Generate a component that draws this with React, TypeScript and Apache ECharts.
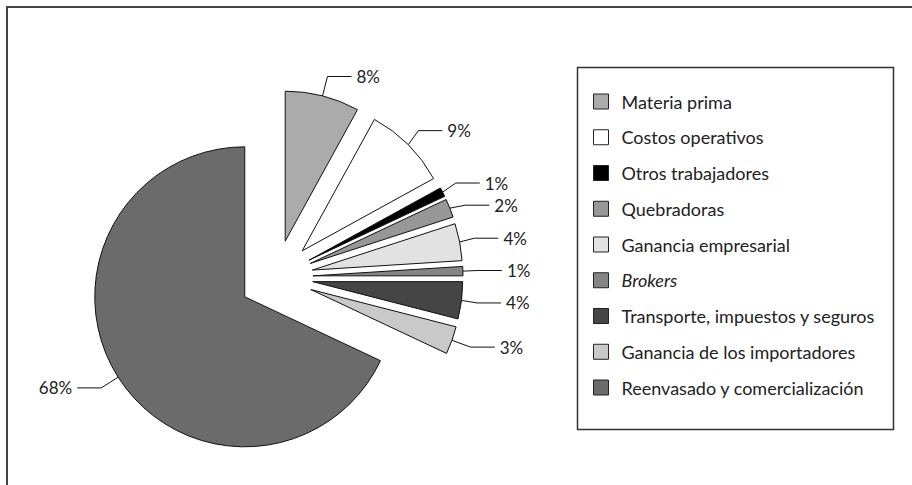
import React, { useEffect, useRef } from "react";
import * as echarts from "echarts";

const categories = [
  "Materia prima",
  "Costos operativos",
  "Otros trabajadores",
  "Quebradoras",
  "Ganancia empresarial",
  "Brokers",
  "Transporte, impuestos y seguros",
  "Ganancia de los importadores",
  "Reenvasado y comercialización",
];
const values = [8, 9, 1, 2, 4, 1, 4, 3, 68];
const colors = ["#ababab", "#ffffff", "#000000", "#979797", "#e2e2e2", "#858585", "#454545", "#c9c9c9", "#6b6b6b"];

const FONT = "Lato";

export default function App() {
  const ref = useRef<HTMLDivElement>(null);
  useEffect(() => {
    if (!ref.current) return;
    const chart = echarts.init(ref.current, undefined, { renderer: "svg" });
    const data = categories.map((name, i) => ({
      name,
      value: values[i],
      selected: true,
      itemStyle: { color: colors[i] },
    }));
    chart.setOption({
      animation: false,
      backgroundColor: "#ffffff",
      legend: {
        orient: "vertical",
        left: 588,
        top: 87.5,
        itemWidth: 15,
        itemHeight: 15,
        itemGap: 17.75,
        icon: "rect",
        selectedMode: false,
        itemStyle: { borderColor: "#222", borderWidth: 1 },
        textStyle: {
          fontFamily: FONT,
          fontSize: 18,
          color: "#222",
          lineHeight: 18,
          padding: [0, 0, 0, 8],
          rich: {
            it: { fontFamily: FONT, fontSize: 18, fontStyle: "italic", color: "#222", lineHeight: 18 },
          },
        },
        formatter: (name: string) => (name === "Brokers" ? "{it|Brokers}" : name),
        data: categories,
      },
      graphic: [
        { type: "rect", shape: { x: 7, y: 7, width: 1000, height: 1000 }, style: { fill: "none", stroke: "#444", lineWidth: 2 }, silent: true },
        { type: "rect", shape: { x: 577.5, y: 67.5, width: 316, height: 362 }, style: { fill: "none", stroke: "#333", lineWidth: 1.5 }, silent: true, z: -1 },
      ],
      series: [
        {
          type: "pie",
          center: [276, 277],
          radius: 150,
          startAngle: 90,
          clockwise: true,
          selectedMode: "multiple",
          selectedOffset: 37,
          avoidLabelOverlap: true,
          itemStyle: { borderColor: "#111", borderWidth: 1 },
          select: { itemStyle: { borderColor: "#111", borderWidth: 1 } },
          emphasis: { disabled: true },
          label: {
            show: true,
            position: "outside",
            formatter: "{c}%",
            fontFamily: FONT,
            fontSize: 17,
            color: "#222",
          },
          labelLine: {
            show: true,
            length: 20,
            length2: 24,
            lineStyle: { color: "#111", width: 1 },
          },
          data,
        },
      ],
    });
    return () => chart.dispose();
  }, []);
  return (
    <div
      ref={ref}
      style={{ position: "fixed", left: 0, top: 0, width: 912, height: 485 }}
    />
  );
}
